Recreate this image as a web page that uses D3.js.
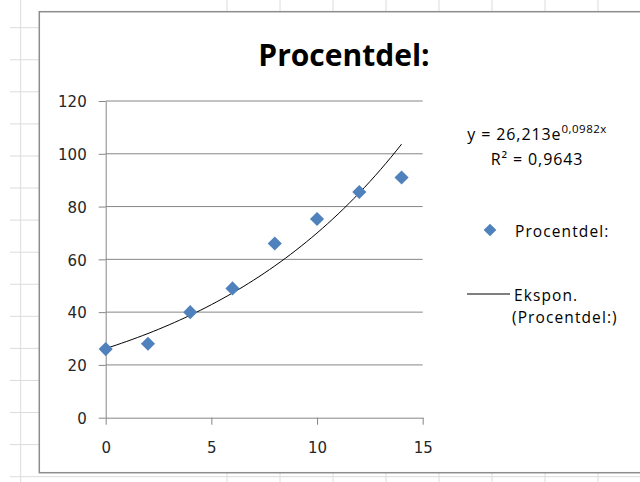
<!DOCTYPE html>
<html>
<head>
<meta charset="utf-8">
<script src="https://cdn.jsdelivr.net/npm/d3@7"></script>
<style>
  body { margin: 0; background: #fff; }
  svg { display: block; }
  .tick text { font-family: "DejaVu Sans", sans-serif; font-size: 15px; fill: #262626; }
  .axis path, .axis line { stroke: #868686; }
</style>
</head>
<body>
<div id="chart"></div>
<script>
'use strict';

// data
const xValues = [0, 2, 4, 6, 8, 10, 12, 14];
const yValues = [26, 28, 40, 49, 66, 75.3, 85.5, 91];
const xTicks = [0, 5, 10, 15];
const yTicks = [0, 20, 40, 60, 80, 100, 120];
// trendline y = a * e^(b x), as printed on the chart
const trendA = 26.213,
    trendB = 0.0982;
const titleText = "Procentdel:";
const seriesName = "Procentdel:";
const trendName = ["Ekspon.", "(Procentdel:)"];
const eqMain = "y = 26,213e",
    eqPower = "0,0982x",
    r2Text = "R² = 0,9643";

const width = 640,
    height = 482,
    plot = {left: 105.7, right: 422.7, top: 101, bottom: 417.7};

const svg = d3.select("#chart")
    .append("svg")
    .attr("width", width)
    .attr("height", height);

// spreadsheet grid behind the chart object
const sheet = svg.append("g").attr("stroke", "#dcdcdc").attr("stroke-width", 1);
sheet.selectAll(".row")
    .data(d3.range(27.7, height, 32.07))
    .join("line")
    .attr("x1", 10).attr("x2", width)
    .attr("y1", d => d).attr("y2", d => d);
sheet.selectAll(".col")
    .data([20.7, ...d3.range(227, width, 53)])
    .join("line")
    .attr("x1", d => d).attr("x2", d => d)
    .attr("y1", 0).attr("y2", height);

// chart object
svg.append("rect")
    .attr("x", 39.3)
    .attr("y", 11.7)
    .attr("width", 700)
    .attr("height", 461)
    .attr("fill", "#fff")
    .attr("stroke", "#8c8c8c")
    .attr("stroke-width", 1.5);

const xScale = d3.scaleLinear()
    .domain([0, 15])
    .range([plot.left, plot.right]);
const yScale = d3.scaleLinear()
    .domain([0, 120])
    .range([plot.bottom, plot.top]);

// gridlines
svg.append("g")
    .selectAll("line")
    .data(yTicks.filter(d => d > 0))
    .join("line")
    .attr("x1", plot.left)
    .attr("x2", plot.right)
    .attr("y1", d => yScale(d))
    .attr("y2", d => yScale(d))
    .attr("stroke", "#868686")
    .attr("stroke-width", 1);

svg.append("g")
    .attr("class", "axis y-axis")
    .attr("transform", `translate(${plot.left},0)`)
    .call(d3.axisLeft(yScale).tickValues(yTicks).tickSize(7).tickSizeOuter(0).tickPadding(12))
    .call(g => g.selectAll("text").attr("dy", "0.38em"));

svg.append("g")
    .attr("class", "axis x-axis")
    .attr("transform", `translate(0,${plot.bottom})`)
    .call(d3.axisBottom(xScale).tickValues(xTicks).tickSize(7).tickSizeOuter(0).tickPadding(18));

svg.selectAll(".domain").attr("stroke", "#868686");

// trendline
const trendData = d3.range(0, 14.001, 0.25).map(x => [x, trendA * Math.exp(trendB * x)]);
svg.append("path")
    .datum(trendData)
    .attr("fill", "none")
    .attr("stroke", "#000")
    .attr("stroke-width", 1)
    .attr("d", d3.line().x(d => xScale(d[0])).y(d => yScale(d[1])));

// markers
const diamond = d3.symbol().type(d3.symbolSquare).size(100);
svg.append("g")
    .selectAll("path")
    .data(xValues.map((x, i) => ({x: x, y: yValues[i]})))
    .join("path")
    .attr("d", diamond)
    .attr("transform", d => `translate(${xScale(d.x)},${yScale(d.y)}) rotate(45)`)
    .attr("fill", "#4f81bd");

// title
svg.append("text")
    .attr("x", 344)
    .attr("y", 66)
    .attr("text-anchor", "middle")
    .style("font-family", "'Open Sans', sans-serif")
    .style("font-weight", "bold")
    .style("font-size", "30px")
    .attr("fill", "#000")
    .text(titleText);

// trendline equation
const eq = svg.append("text")
    .attr("x", 537)
    .attr("y", 140)
    .attr("text-anchor", "middle")
    .style("font-family", "'Open Sans', sans-serif")
    .style("font-size", "16px")
    .style("letter-spacing", "0.9px")
    .attr("fill", "#000");
eq.append("tspan").text(eqMain);
eq.append("tspan")
    .attr("dy", -7)
    .style("font-size", "11.5px")
    .style("letter-spacing", "0.5px")
    .text(eqPower);

svg.append("text")
    .attr("x", 537)
    .attr("y", 165)
    .attr("text-anchor", "middle")
    .style("font-family", "'Open Sans', sans-serif")
    .style("font-size", "16px")
    .style("letter-spacing", "0.9px")
    .attr("fill", "#000")
    .text(r2Text);

// legend
const legend = svg.append("g")
    .style("font-family", "'Open Sans', sans-serif")
    .style("font-size", "15.5px")
    .style("letter-spacing", "1.1px")
    .attr("fill", "#000");

legend.append("path")
    .attr("d", d3.symbol().type(d3.symbolSquare).size(80))
    .attr("transform", "translate(490,230) rotate(45)")
    .attr("fill", "#4f81bd");
legend.append("text")
    .attr("x", 515)
    .attr("y", 236.5)
    .text(seriesName);

legend.append("line")
    .attr("x1", 467)
    .attr("x2", 510)
    .attr("y1", 294)
    .attr("y2", 294)
    .attr("stroke", "#000")
    .attr("stroke-width", 1);
legend.selectAll(".trend-label")
    .data(trendName)
    .join("text")
    .attr("x", (d, i) => i === 0 ? 514 : 512)
    .attr("y", (d, i) => 301 + i * 21.5)
    .text(d => d);
</script>
</body>
</html>
